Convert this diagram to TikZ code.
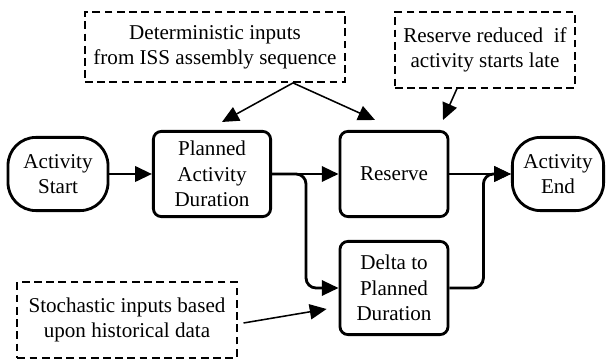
\documentclass[tikz,border=0pt]{standalone}
\usepackage{fontspec}
\setmainfont{Liberation Serif}
\usetikzlibrary{arrows.meta,calc}

\tikzset{
  endpoint/.style={draw, line width=2pt, rounded corners=0.7cm, align=center, inner sep=0pt},
  taskbox/.style={draw, line width=2pt, rounded corners=0.2cm, align=center, inner sep=0pt},
  notebox/.style={draw, line width=1.3pt, dash pattern=on 5.5pt off 3.2pt, align=center, inner sep=0pt},
  flow/.style={line width=2pt, -{Triangle[length=0.42cm, width=0.38cm]}},
  hint/.style={line width=1.1pt, -{Triangle[length=0.42cm, width=0.38cm]}}
}

\begin{document}
\begin{tikzpicture}[x=0.025cm, y=-0.025cm, font=\fontsize{15}{18}\selectfont]
        \useasboundingbox (0, 0) rectangle (608, 360);

        % Draw the main row of activities
        \node[endpoint, minimum width=2.5cm, minimum height=1.83cm] (astart) at (58, 174) {Activity\\Start};
        \node[taskbox, minimum width=2.93cm, minimum height=2.13cm] (pad) at (212, 174) {Planned\\Activity\\Duration};
        \node[taskbox, minimum width=2.7cm, minimum height=2.13cm] (res) at (394, 174) {Reserve};
        \node[endpoint, minimum width=2.28cm, minimum height=1.83cm] (aend) at (558, 174) {Activity\\End};

        % Draw the delta box below the reserve
        \node[taskbox, minimum width=2.7cm, minimum height=2.33cm] (delta) at (394, 288) {Delta to\\Planned\\Duration};

        % Draw the input notes
        \node[notebox, minimum width=6.5cm, minimum height=1.75cm] (det) at (215, 47) {Deterministic inputs\\from ISS assembly sequence};
        \node[notebox, minimum width=4.5cm, minimum height=1.88cm] (late) at (485, 50) {Reserve reduced~ if\\activity starts late};
        \node[notebox, minimum width=5.48cm, minimum height=1.88cm] (stoch) at (127, 320) {Stochastic inputs based\\upon historical data};

        % Draw the flow between the boxes
        \draw[flow] (astart) -- (pad);
        \draw[flow] (pad) -- (res);
        \draw[flow, rounded corners=0.25cm] (pad.east) -- ++(34, 0) |- (delta.west);
        \draw[flow] (res) -- (aend);
        \draw[flow, rounded corners=0.25cm] (delta.east) -- ++(34, 0) |- (aend.west);

        % Draw the arrows from the notes
        \coordinate (detfoot) at ($(det.south)+(78, 0)$);
        \coordinate (latefoot) at ($(late.south)+(-28, 0)$);
        \coordinate (stochside) at ($(stoch.east)+(6, 3)$);
        \draw[hint] (detfoot) -- ($(pad.north)+(10, -8)$);
        \draw[hint] (detfoot) -- ($(res.north)+(-19, -10)$);
        \draw[hint] (latefoot) -- ($(res.north)+(49, -10)$);
        \draw[hint] (stochside) -- ($(delta.west)+(-12, 21)$);

        \end{tikzpicture}
\end{document}
